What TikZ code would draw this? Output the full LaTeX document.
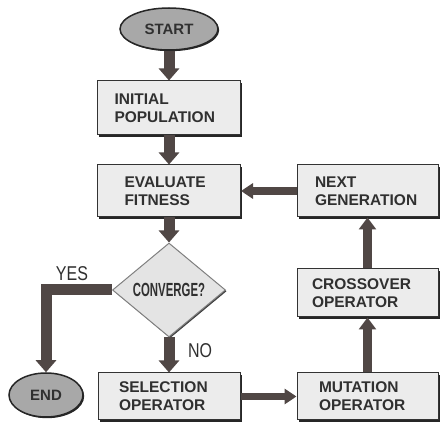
\documentclass[tikz,border=0pt]{standalone}
\usepackage{fontspec}
\setmainfont{Liberation Sans}
\usepackage{graphicx}
\usetikzlibrary{arrows.meta, shapes.geometric, shadows}
\definecolor{boxgray}{RGB}{236,236,236}
\definecolor{ovalgray}{RGB}{168,168,168}
\definecolor{diagray}{RGB}{228,228,228}
\definecolor{arrowgray}{RGB}{80,71,69}
\definecolor{inkgray}{RGB}{48,48,48}

\begin{document}
\begin{tikzpicture}[
    x=1pt, y=-1pt,
    box/.style={
        rectangle, draw=black!80, line width=1pt, fill=boxgray, text=inkgray,
        align=left, inner ysep=2pt,
        font=\fontsize{15.5}{18}\selectfont\bfseries,
        drop shadow={shadow xshift=1.8pt, shadow yshift=-1.8pt, fill=black!85, opacity=1}
    },
    oval/.style={
        ellipse, draw=black!85, line width=1.5pt, fill=ovalgray, text=inkgray,
        inner sep=0pt, font=\fontsize{15}{17}\selectfont\bfseries,
        drop shadow={shadow xshift=1.2pt, shadow yshift=-1.2pt, fill=black!85, opacity=1}
    },
    decision/.style={
        diamond, draw=black!50, line width=1pt, fill=diagray, text=inkgray,
        inner sep=0pt, minimum width=113pt, minimum height=94pt,
        font=\fontsize{19}{21}\selectfont\bfseries,
        drop shadow={shadow xshift=1.2pt, shadow yshift=-1.2pt, fill=black!75, opacity=1}
    },
    lbl/.style={font=\fontsize{20}{22}\selectfont, text=inkgray, inner sep=0pt},
    arr/.style={-{Triangle[width=20pt, length=12pt]}, line width=11pt, draw=arrowgray, line join=miter},
    midarr/.style={-{Triangle[width=17pt, length=12pt]}, line width=9pt, draw=arrowgray},
    thinarr/.style={-{Triangle[width=15pt, length=12pt]}, line width=7.5pt, draw=arrowgray}
]
\useasboundingbox (0,0) rectangle (440,422);

% left column
\node[oval, minimum width=98pt, minimum height=42pt] (start) at (169,29) {START};
\node[box, minimum height=54pt, inner xsep=17pt, text width=109pt] (init) at (169,108) {INITIAL\\POPULATION};
\node[box, minimum height=52pt, inner xsep=27pt, text width=89pt] (eval) at (169,191) {EVALUATE\\FITNESS};
\node[decision] (conv) at (169,290) {\scalebox{0.6}[1]{CONVERGE?}};
\node[box, minimum height=47pt, inner xsep=21pt, text width=100pt] (sel) at (169,396.5) {SELECTION\\OPERATOR};
\node[oval, minimum width=74pt, minimum height=44pt] (end) at (46,395) {END};

% right column
\node[box, minimum height=52pt, inner xsep=18pt, text width=105pt] (next) at (367.5,191) {NEXT\\GENERATION};
\node[box, minimum height=48pt, inner xsep=15pt, text width=111pt] (cross) at (367.5,293) {CROSSOVER\\OPERATOR};
\node[box, minimum height=47pt, inner xsep=22pt, text width=97pt] (mut) at (367.5,396.5) {MUTATION\\OPERATOR};

% labels
\node[lbl] (yes) at (72,274) {\scalebox{0.8}[1]{YES}};
\node[lbl] (no) at (200,351) {\scalebox{0.8}[1]{NO}};

% arrows
\draw[arr] (start.south) -- (init.north);
\draw[arr] (init.south) -- (eval.north);
\draw[arr] (eval.south) -- (conv.north);
\draw[arr] (conv.south) -- (sel.north);
\draw[arr] (conv.west) -| (end.north);
\draw[thinarr] (sel.east) -- (mut.west);
\draw[midarr] (mut.north) -- (cross.south);
\draw[midarr] (cross.north) -- (next.south);
\draw[thinarr] (next.west) -- (eval.east);

\end{tikzpicture}
\end{document}
